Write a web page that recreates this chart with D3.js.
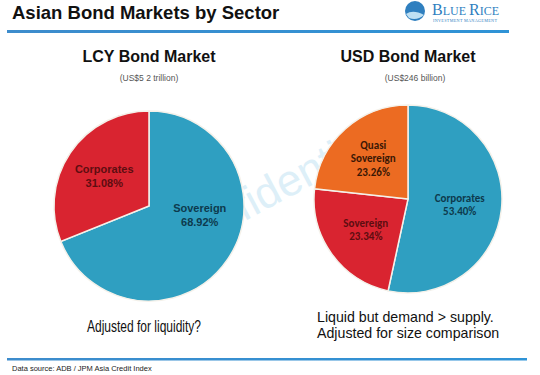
<!DOCTYPE html>
<html>
<head>
<meta charset="utf-8">
<script src="https://cdn.jsdelivr.net/npm/d3@7"></script>
<style>
  body { margin: 0; background: #fff; }
  svg { display: block; font-family: Arial, "Liberation Sans", sans-serif; }
</style>
</head>
<body>
<div id="frame"></div>
<script>
// VARIABLES
const width = 540;
const height = 375;

// data
const lcySectors = ["Sovereign", "Corporates"];
const lcyShares = [68.92, 31.08];
const usdSectors = ["Corporates", "Sovereign", "Quasi Sovereign"];
const usdShares = [53.40, 23.34, 23.26];

// colors, by slice order (blue, red, orange)
const sliceColors = ["#2f9fc1", "#d92430", "#ec6b22"];
const sliceText = ["#0d3a4d", "#5e0d10", "#3a1705"];

const svg = d3.select("#frame")
    .append("svg")
        .attr("width", width)
        .attr("height", height)
        .attr("viewBox", [0, 0, width, height]);

// watermark
svg.append("text")
    .attr("transform", "translate(275,205) rotate(-28)")
    .attr("text-anchor", "middle")
    .attr("font-size", 44)
    .attr("fill", "#9fd3ec")
    .attr("opacity", 0.35)
    .text("Confidential");

// header
svg.append("text")
    .attr("x", 12).attr("y", 19)
    .attr("font-size", 18.5).attr("font-weight", "bold")
    .attr("fill", "#111")
    .text("Asian Bond Markets by Sector");

const grad = svg.append("defs").append("linearGradient")
    .attr("id", "rule").attr("x1", "0").attr("x2", "1");
grad.append("stop").attr("offset", "0").attr("stop-color", "#3d8ccc");
grad.append("stop").attr("offset", "1").attr("stop-color", "#2f93d6");

svg.append("rect").attr("x", 7).attr("y", 30).attr("width", 502).attr("height", 3)
    .attr("fill", "url(#rule)");
svg.append("rect").attr("x", 7).attr("y", 358).attr("width", 520).attr("height", 2.5)
    .attr("fill", "url(#rule)");

// logo
const logo = svg.append("g").attr("transform", "translate(415,11)");
logo.append("circle").attr("r", 10).attr("fill", "#2f7fbf");
logo.append("path").attr("d", "M-9,3 Q-2,-2 9,4 Q2,10 -6,7 Z").attr("fill", "#bfe0f3");
const brand = logo.append("text")
    .attr("x", 17).attr("y", 4)
    .attr("font-family", "Liberation Serif, serif")
    .attr("fill", "#2f7fbf");
brand.append("tspan").attr("font-size", 16).text("B");
brand.append("tspan").attr("font-size", 12).text("LUE ");
brand.append("tspan").attr("font-size", 16).text("R");
brand.append("tspan").attr("font-size", 12).text("ICE");
logo.append("text")
    .attr("x", 18).attr("y", 11)
    .attr("font-family", "Liberation Serif, serif")
    .attr("font-size", 4.2).attr("fill", "#2f7fbf")
    .attr("letter-spacing", 0.3)
    .text("INVESTMENT MANAGEMENT");

// footer
svg.append("text")
    .attr("x", 12).attr("y", 371)
    .attr("font-size", 7.5).attr("fill", "#222")
    .text("Data source: ADB / JPM Asia Credit Index");

// pies
const pie = d3.pie().sort(null).value(d => d.value);

function drawPie(opts) {
    const data = opts.names.map((n, i) => ({name: n, value: opts.values[i], idx: i}));
    const arc = d3.arc().innerRadius(0).outerRadius(opts.r);
    const labelArc = d3.arc().innerRadius(opts.lr).outerRadius(opts.lr);

    svg.append("text")
        .attr("x", opts.cx).attr("y", 62)
        .attr("text-anchor", "middle")
        .attr("font-size", 16).attr("font-weight", "bold").attr("fill", "#111")
        .text(opts.title);
    svg.append("text")
        .attr("x", opts.cx + opts.subDx).attr("y", 81)
        .attr("text-anchor", "middle")
        .attr("font-size", 8.5).attr("fill", "#555")
        .text(opts.sub);

    const g = svg.append("g").attr("transform", `translate(${opts.cx},${opts.cy})`);
    const arcs = pie(data);
    g.selectAll("path")
        .data(arcs)
        .enter()
        .append("path")
            .attr("d", arc)
            .attr("fill", d => sliceColors[d.data.idx])
            .attr("stroke", "#f4f1ea")
            .attr("stroke-width", 1.5);

    const lab = g.selectAll("g.lab")
        .data(arcs)
        .enter()
        .append("g")
            .attr("class", "lab")
            .attr("transform", (d, i) => {
                const c = labelArc.centroid(d);
                const n = opts.nudge[i] || [0, 0];
                return `translate(${c[0] + n[0]},${c[1] + n[1]})`;
            });
    lab.each(function(d) {
        const lines = d.data.name == "Quasi Sovereign" ? ["Quasi", "Sovereign"] : [d.data.name];
        lines.push(d.data.value.toFixed(2) + "%");
        const t = d3.select(this).append("text")
            .attr("text-anchor", "middle")
            .attr("font-family", opts.labelFont)
            .attr("font-size", 11).attr("font-weight", "bold")
            .attr("fill", sliceText[d.data.idx]);
        const y0 = -(lines.length - 1) * 13.5 / 2 + 4;
        lines.forEach((s, k) => {
            t.append("tspan").attr("x", 0).attr("y", y0 + k * 13.5).text(s);
        });
    });
}

drawPie({names: lcySectors, values: lcyShares, cx: 149, cy: 206, r: 95, lr: 54,
    title: "LCY Bond Market", sub: "(US$5 2 trillion)", subDx: 0,
    nudge: [[6, -21], [0, 0]], labelFont: "Arial, Liberation Sans, sans-serif"});
drawPie({names: usdSectors, values: usdShares, cx: 408, cy: 199, r: 94, lr: 52,
    title: "USD Bond Market", sub: "(US$246 billion)", subDx: 7,
    nudge: [[0, 0], [0, 0], [0, -2]], labelFont: "Carlito, Open Sans, sans-serif"});

// notes
svg.append("text")
    .attr("x", 87).attr("y", 332)
    .attr("font-size", 16).attr("fill", "#111")
    .attr("textLength", 114).attr("lengthAdjust", "spacingAndGlyphs")
    .text("Adjusted for liquidity?");
const note = svg.append("text")
    .attr("x", 317)
    .attr("font-size", 14.2).attr("fill", "#111");
note.append("tspan").attr("x", 317).attr("y", 322).text("Liquid but demand > supply.");
note.append("tspan").attr("x", 317).attr("y", 338).text("Adjusted for size comparison");
</script>
</body>
</html>
